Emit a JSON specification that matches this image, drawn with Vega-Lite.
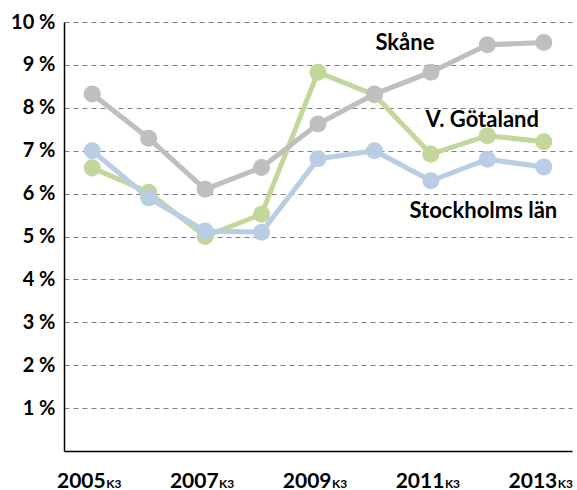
{
  "$schema": "https://vega.github.io/schema/vega-lite/v6.json",
  "width": 508,
  "height": 429,
  "autosize": {"type": "none"},
  "padding": {"left": 64, "top": 22, "right": 5, "bottom": 39},
  "config": {
    "view": {"stroke": null},
    "font": "Lato",
    "axis": {"labelFont": "Lato", "labelFontWeight": "bold", "labelColor": "#000000"}
  },
  "datasets": {
    "series": [
      {"region": "V. Götaland", "year": 2005, "value": 6.6},
      {"region": "V. Götaland", "year": 2006, "value": 6.03},
      {"region": "V. Götaland", "year": 2007, "value": 5.0},
      {"region": "V. Götaland", "year": 2008, "value": 5.52},
      {"region": "V. Götaland", "year": 2009, "value": 8.83},
      {"region": "V. Götaland", "year": 2010, "value": 8.3},
      {"region": "V. Götaland", "year": 2011, "value": 6.92},
      {"region": "V. Götaland", "year": 2012, "value": 7.35},
      {"region": "V. Götaland", "year": 2013, "value": 7.21},
      {"region": "Stockholms län", "year": 2005, "value": 7.0},
      {"region": "Stockholms län", "year": 2006, "value": 5.9},
      {"region": "Stockholms län", "year": 2007, "value": 5.13},
      {"region": "Stockholms län", "year": 2008, "value": 5.1},
      {"region": "Stockholms län", "year": 2009, "value": 6.81},
      {"region": "Stockholms län", "year": 2010, "value": 7.0},
      {"region": "Stockholms län", "year": 2011, "value": 6.3},
      {"region": "Stockholms län", "year": 2012, "value": 6.8},
      {"region": "Stockholms län", "year": 2013, "value": 6.62},
      {"region": "Skåne", "year": 2005, "value": 8.32},
      {"region": "Skåne", "year": 2006, "value": 7.29},
      {"region": "Skåne", "year": 2007, "value": 6.1},
      {"region": "Skåne", "year": 2008, "value": 6.61},
      {"region": "Skåne", "year": 2009, "value": 7.62},
      {"region": "Skåne", "year": 2010, "value": 8.32},
      {"region": "Skåne", "year": 2011, "value": 8.83},
      {"region": "Skåne", "year": 2012, "value": 9.47},
      {"region": "Skåne", "year": 2013, "value": 9.52}
    ],
    "labels": [
      {"label": "Skåne", "year": 2010.54, "value": 9.51},
      {"label": "V. Götaland", "year": 2011.91, "value": 7.72},
      {"label": "Stockholms län", "year": 2011.93, "value": 5.59}
    ],
    "sub": [
      {"year": 2005, "s": "K3"},
      {"year": 2007, "s": "K3"},
      {"year": 2009, "s": "K3"},
      {"year": 2011, "s": "K3"},
      {"year": 2013, "s": "K3"}
    ]
  },
  "layer": [
    {
      "data": {"name": "series"},
      "mark": {"type": "line", "strokeWidth": 5, "point": {"filled": true, "size": 290, "opacity": 1}},
      "encoding": {
        "x": {
          "field": "year", "type": "quantitative",
          "scale": {"domain": [2004.5, 2013.5], "nice": false, "zero": false},
          "axis": {
            "title": null, "values": [2005, 2007, 2009, 2011, 2013], "format": "d",
            "grid": false, "ticks": false, "domainColor": "#000000", "domainWidth": 1.5,
            "labelFontSize": 21, "labelAlign": "right", "labelBaseline": "alphabetic",
            "labelPadding": 36, "labelOffset": 13
          }
        },
        "y": {
          "field": "value", "type": "quantitative",
          "scale": {"domain": [0, 10], "nice": false},
          "axis": {
            "title": null, "values": [1, 2, 3, 4, 5, 6, 7, 8, 9, 10],
            "labelExpr": "datum.value + ' %'",
            "grid": true, "gridDash": [5, 4], "gridColor": "#808080", "gridWidth": 1.2,
            "ticks": false, "domainColor": "#000000", "domainWidth": 1.5,
            "labelFontSize": 20, "labelPadding": 9
          }
        },
        "color": {
          "field": "region", "type": "nominal", "legend": null,
          "scale": {"domain": ["V. Götaland", "Stockholms län", "Skåne"], "range": ["#C3D69B", "#B9CDE5", "#BFBFBF"]}
        }
      }
    },
    {
      "data": {"name": "labels"},
      "mark": {"type": "text", "fontSize": 22, "fontWeight": "bold", "color": "#000000", "align": "center", "baseline": "middle"},
      "encoding": {
        "x": {"field": "year", "type": "quantitative"},
        "y": {"field": "value", "type": "quantitative"},
        "text": {"field": "label"}
      }
    },
    {
      "data": {"name": "sub"},
      "mark": {"type": "text", "fontSize": 12, "fontWeight": "bold", "color": "#000000", "align": "left", "baseline": "alphabetic", "dx": 14, "dy": 37},
      "encoding": {
        "x": {"field": "year", "type": "quantitative"},
        "y": {"datum": 0, "type": "quantitative"},
        "text": {"field": "s"}
      }
    }
  ]
}
